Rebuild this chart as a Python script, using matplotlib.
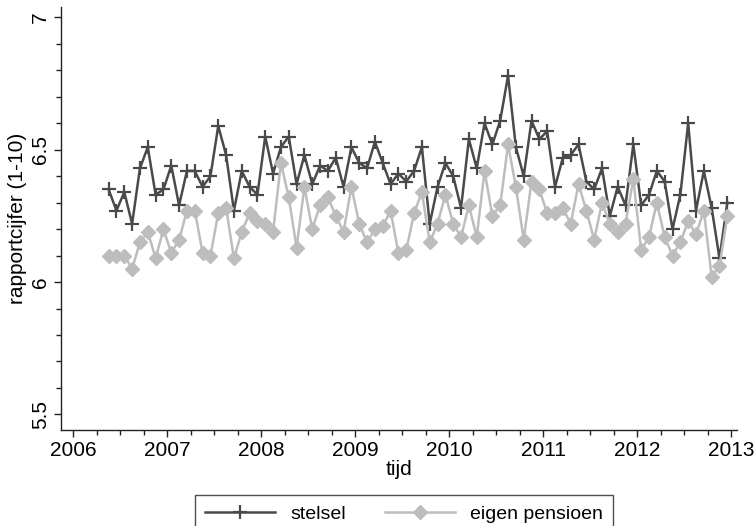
import numpy as np
import matplotlib
matplotlib.use("Agg")
import matplotlib.pyplot as plt
from matplotlib.ticker import MultipleLocator

plt.rcParams['font.family'] = ['Liberation Sans', 'DejaVu Sans']

# Monthly survey, May 2006 - Dec 2012
start_year = 2006
start_month = 5
n_months = 80

# rapportcijfer per maand
stelsel = [6.35, 6.27, 6.34, 6.22, 6.43, 6.51, 6.33, 6.35, 6.44, 6.29,
           6.42, 6.42, 6.36, 6.40, 6.59, 6.48, 6.27, 6.42, 6.36, 6.33,
           6.55, 6.41, 6.51, 6.55, 6.37, 6.48, 6.37, 6.44, 6.42, 6.47,
           6.36, 6.51, 6.45, 6.43, 6.53, 6.45, 6.37, 6.41, 6.38, 6.42,
           6.51, 6.22, 6.36, 6.45, 6.40, 6.28, 6.54, 6.43, 6.60, 6.52,
           6.61, 6.78, 6.51, 6.40, 6.61, 6.54, 6.57, 6.36, 6.47, 6.48,
           6.52, 6.38, 6.35, 6.43, 6.25, 6.36, 6.29, 6.52, 6.29, 6.33,
           6.42, 6.38, 6.20, 6.33, 6.60, 6.27, 6.42, 6.28, 6.09, 6.30]

eigen_pensioen = [6.10, 6.10, 6.10, 6.05, 6.15, 6.19, 6.09, 6.20, 6.11, 6.16,
                  6.27, 6.27, 6.11, 6.10, 6.26, 6.28, 6.09, 6.19, 6.26, 6.23,
                  6.22, 6.19, 6.45, 6.32, 6.13, 6.36, 6.20, 6.29, 6.32, 6.25,
                  6.19, 6.36, 6.22, 6.15, 6.20, 6.21, 6.27, 6.11, 6.12, 6.26,
                  6.34, 6.15, 6.22, 6.33, 6.22, 6.17, 6.29, 6.17, 6.42, 6.25,
                  6.29, 6.52, 6.36, 6.16, 6.38, 6.35, 6.26, 6.26, 6.28, 6.22,
                  6.37, 6.27, 6.16, 6.30, 6.22, 6.19, 6.22, 6.39, 6.12, 6.17,
                  6.30, 6.17, 6.10, 6.15, 6.23, 6.18, 6.27, 6.02, 6.06, 6.25]

# time axis in decimal years (middle of the month)
months = np.arange(n_months) + (start_month - 1)
tijd = start_year + (months + 0.5) / 12

fig = plt.figure(figsize=(7.55, 5.26), dpi=100)
ax = fig.add_axes([0.081, 0.182, 0.895, 0.805])

ax.plot(tijd, stelsel, color='#4a4a4a', lw=1.8, marker='+', ms=10, mew=1.6,
        label='stelsel')
ax.plot(tijd, eigen_pensioen, color='#bdbdbd', lw=1.8, marker='D', ms=7,
        mec='#bdbdbd', mfc='#bdbdbd', label='eigen pensioen')

ax.set_xlim(2005.87, 2013.06)
ax.set_ylim(5.44, 7.04)

ax.xaxis.set_major_locator(MultipleLocator(1))
ax.xaxis.set_minor_locator(MultipleLocator(0.25))
ax.yaxis.set_major_locator(MultipleLocator(0.5))
ax.yaxis.set_minor_locator(MultipleLocator(0.1))
ax.set_yticks([5.5, 6, 6.5, 7])
ax.set_yticklabels(['5.5', '6', '6.5', '7'], rotation=90, va='center')

ax.tick_params(axis='both', which='major', length=5, width=1, labelsize=15,
               color='#222222', pad=3)
ax.tick_params(axis='both', which='minor', length=3.5, width=1, color='#222222')

for s in ['top', 'right']:
    ax.spines[s].set_visible(False)
for s in ['left', 'bottom']:
    ax.spines[s].set_linewidth(1)
    ax.spines[s].set_color('#222222')

ax.set_xlabel('tijd', fontsize=15, labelpad=0)
ax.set_ylabel('rapportcijfer (1-10)', fontsize=15, labelpad=3)

leg = fig.legend(loc='upper center', bbox_to_anchor=(0.535, 0.077), ncol=2,
                 fontsize=14, frameon=True, fancybox=False, handlelength=3.6,
                 columnspacing=2.0, borderpad=0.5, handletextpad=0.8)
leg.get_frame().set_edgecolor('#222222')
leg.get_frame().set_linewidth(1)

fig.savefig('out.png', dpi=100)
